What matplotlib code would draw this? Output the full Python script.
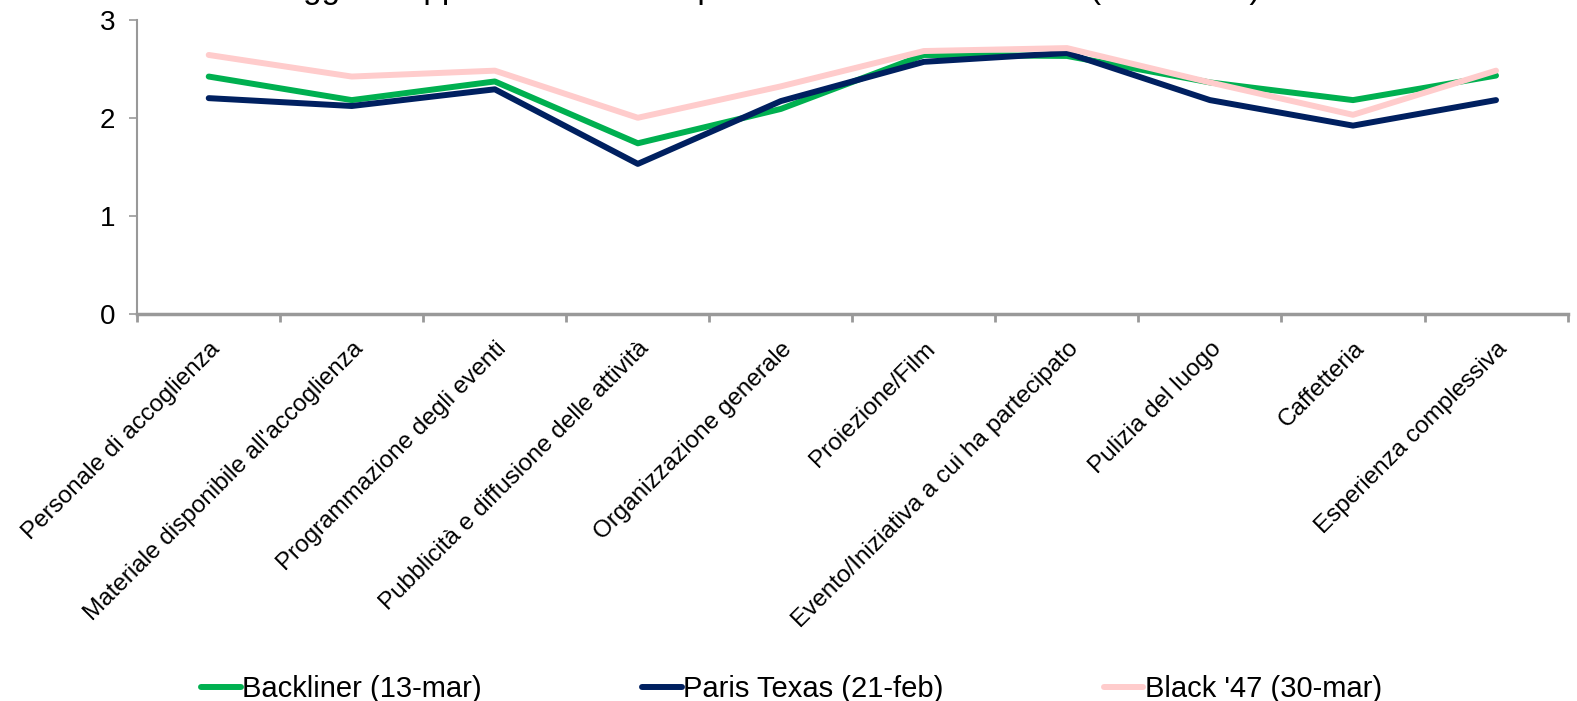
import numpy as np
import matplotlib
matplotlib.use("Agg")
import matplotlib.pyplot as plt

plt.rcParams['font.family'] = ['Liberation Sans', 'DejaVu Sans']

# aspetti valutati e voti medi per serata
categories = [
    "Personale di accoglienza",
    "Materiale disponibile all'accoglienza",
    "Programmazione degli eventi",
    "Pubblicità e diffusione delle attività",
    "Organizzazione generale",
    "Proiezione/Film",
    "Evento/Iniziativa a cui ha partecipato",
    "Pulizia del luogo",
    "Caffetteria",
    "Esperienza complessiva",
]
backliner = [2.42, 2.18, 2.37, 1.74, 2.09, 2.64, 2.63, 2.36, 2.18, 2.43]
paris_texas = [2.20, 2.12, 2.29, 1.53, 2.17, 2.57, 2.66, 2.18, 1.92, 2.18]
black_47 = [2.64, 2.42, 2.48, 2.00, 2.32, 2.68, 2.71, 2.36, 2.03, 2.48]

series_labels = ["Backliner (13-mar)", "Paris Texas (21-feb)", "Black '47 (30-mar)"]
series_colors = ["#00B050", "#002060", "#FFCCCC"]

fig = plt.figure(figsize=(15.77, 7.01), dpi=100)
ax = fig.add_axes([0.087, 0.552, 0.907, 0.42])

x = np.arange(len(categories))
for vals, lab, col in zip([backliner, paris_texas, black_47], series_labels, series_colors):
    ax.plot(x, vals, color=col, linewidth=4.3, label=lab, solid_capstyle='round')

ax.set_xlim(-0.5, len(categories) - 0.5)
ax.set_ylim(0, 3)
ax.set_yticks([0, 1, 2, 3])
ax.tick_params(axis='y', labelsize=20, length=6, width=1.2, color='#999999', pad=10)

# etichette al centro, tacche tra una categoria e l'altra
ax.set_xticks(x)
ax.set_xticklabels(categories, rotation=45, ha='right', rotation_mode='anchor', fontsize=17.5)
ax.tick_params(axis='x', which='major', length=0, pad=17)
ax.set_xticks(np.arange(-0.5, len(categories)), minor=True)
ax.tick_params(axis='x', which='minor', length=6, width=2, color='#999999')

for side in ['top', 'right']:
    ax.spines[side].set_visible(False)
ax.spines['left'].set_color('#999999')
ax.spines['left'].set_linewidth(1.5)
ax.spines['bottom'].set_color('#999999')
ax.spines['bottom'].set_linewidth(2.5)

fig.legend(loc='lower left', bbox_to_anchor=(0.111, -0.04), ncol=3, frameon=False,
           fontsize=21, handlelength=1.35, handletextpad=0.05, columnspacing=5.5)

# titolo tagliato dal bordo superiore
fig.text(0.09, 1 + 1.5 / 701,
         "Aree di maggiore apprezzamento del pubblico: confronto serate (media 1-3)",
         fontsize=24, ha='left', va='baseline')

fig.savefig("out.png", dpi=100)
